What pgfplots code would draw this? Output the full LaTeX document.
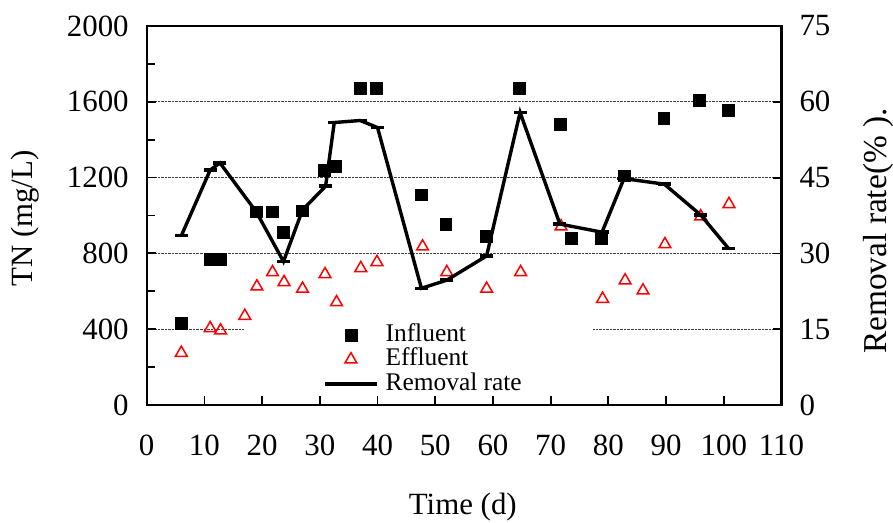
\documentclass[border=0pt]{standalone}
\usepackage{fontspec}
\setmainfont{Liberation Serif}
\usepackage{pgfplots}
\pgfplotsset{compat=1.18}
\definecolor{effred}{RGB}{255,0,0}

\pgfplotsset{
  markleg/.style={legend image code/.code={\path (-79bp,0bp) (52bp,0bp);
    \path[##1] plot coordinates {(26bp,0bp)};}},
  lineleg/.style={legend image code/.code={\path (-79bp,0bp);
    \draw[##1, mark=none] (0bp,0bp) -- (52bp,0bp);
    \path[##1] plot coordinates {(26bp,0bp)};}},
  twin/.style={
    width=634.8bp, height=379bp, scale only axis,
    at={(0,0)}, anchor=south west,
    xmin=0, xmax=110,
    tick align=inside,
    major tick length=9bp, minor tick length=8bp,
    every tick/.style={black, line width=1.8bp},
    axis line style={line width=2.2bp},
    tick label style={font=\fontsize{31}{36}\selectfont},
    label style={font=\fontsize{31}{36}\selectfont},
    /pgf/number format/assume math mode=true,
    /pgf/number format/1000 sep={},
  },
}

\begin{document}
\begin{tikzpicture}
\path[use as bounding box] (-146.7bp,-118bp) rectangle (746.3bp,405bp);
% Influent and effluent total nitrogen (left axis)
\begin{axis}[twin,
  ymin=0, ymax=2000,
  xtick={0,10,...,110}, xtick pos=bottom,
  ytick={0,400,...,2000}, minor ytick={200,600,...,1800}, ytick pos=left,
  ymajorgrids, major grid style={densely dotted, line width=0.6bp, black!75},
  xticklabel style={yshift=-26bp},
  yticklabel style={xshift=-14.5bp},
  xlabel={Time (d)},
  ylabel={TN (mg/L)},
  xlabel style={at={(axis description cs:0.498,-0.2691)}, anchor=center},
  ylabel style={at={(axis description cs:-0.1917,0.492)}, anchor=center},
  legend style={at={(rel axis cs:0.1533,0.2177)}, anchor=north west,
    fill=white, draw=none, inner sep=0bp,
    font=\fontsize{25.5}{28}\selectfont,
    column sep=0bp, row sep=0bp,
    nodes={text height=17.5bp, text depth=5bp, inner ysep=1bp, inner xsep=7bp}},
  legend cell align=left,
]
\addplot[only marks, mark=square*, mark size=5.9bp, black, markleg]
  coordinates {
  (6,430) (11,770) (12.7,770) (19,1020) (21.7,1020) (23.7,910)
  (27,1025) (30.7,1240) (32.7,1260) (37,1670) (39.8,1670)
  (47.6,1110) (51.8,955) (58.8,890) (64.6,1670) (71.6,1480)
  (73.6,880) (78.8,880) (82.7,1210) (89.6,1513) (95.8,1610) (100.7,1557)
};
\addlegendentry{Influent}
\addplot[only marks, mark=triangle, mark size=6.8bp, effred,
  mark options={line width=1.5bp}, markleg]
  coordinates {
  (6,275) (11,405) (12.8,393) (17,470) (19.1,625) (21.8,700)
  (23.8,648) (27,613) (30.9,690) (32.9,542) (37.1,722) (39.9,754)
  (47.8,836) (52,701) (58.9,613) (64.8,701) (71.8,942) (79,560)
  (82.9,657) (86,604) (89.8,848) (96,995) (100.9,1060)
};
\addlegendentry{Effluent}
\addlegendimage{black, line width=3.4bp, mark=-, mark size=6.5bp, lineleg}
\addlegendentry{Removal rate\rule{64bp}{0bp}}
\end{axis}
% Removal rate (right axis)
\begin{axis}[twin,
  ymin=0, ymax=75,
  ytick={0,15,...,75},
  axis x line=none, axis y line*=right,
  yticklabel style={xshift=14.5bp},
  ylabel={Removal rate(\% ).},
  ylabel style={at={(axis description cs:1.152,0.459)}, anchor=center,
    font=\fontsize{33.5}{38}\selectfont},
]
\addplot[black, line width=3.4bp, mark=-, mark size=6.5bp] coordinates {
  (6,33.5) (11,46.5) (12.7,47.9) (19,38.2) (23.7,28.4) (27,38.6)
  (31,43.3) (32.5,55.9) (37,56.3) (40,54.9) (47.6,23.1) (52,24.7)
  (58.9,29.5) (64.7,57.9) (71.6,35.8) (78.9,34.2) (82.7,44.8)
  (89.7,43.7) (96,37.6) (100.8,31.0)
};
\end{axis}
\end{tikzpicture}
\end{document}
